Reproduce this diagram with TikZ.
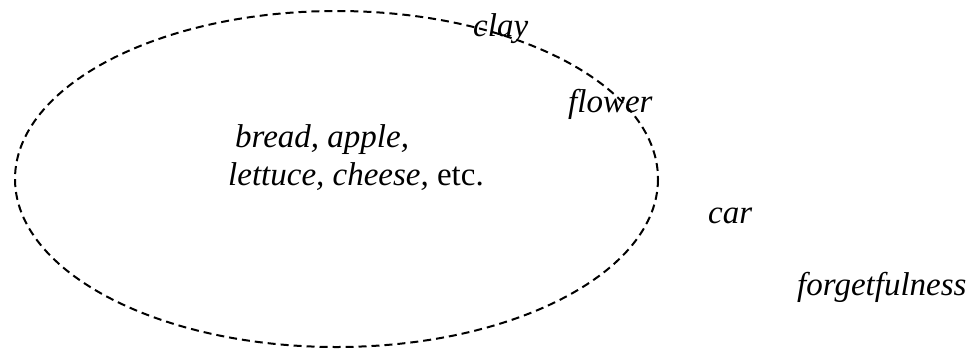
\documentclass[tikz,border=0pt]{standalone}
\usepackage{fontspec}
\setmainfont{Liberation Serif}
\begin{document}
\begin{tikzpicture}[x=1pt,y=-1pt,
  word/.style={anchor=base west,inner sep=0pt,font=\fontsize{33}{40}\selectfont\itshape},
  boundary/.style={draw=black,line width=2pt,dash pattern=on 8pt off 5pt}]
\useasboundingbox (0,0) rectangle (974,349);
% the dashed region
\draw[boundary] (336.5,179) ellipse [x radius=321.5, y radius=168];
% words inside
\node[word] (bread) at (235,147) {bread, apple,};
\node[word] (lettuce) at (228,185) {lettuce, cheese, \upshape etc.};
% words on the boundary
\node[word] (clay) at (473,36) {clay};
\node[word] (flower) at (568,112) {flower};
% words outside
\node[word] (car) at (708,223) {car};
\node[word] (forget) at (797,295) {forgetfulness};
\end{tikzpicture}
\end{document}
